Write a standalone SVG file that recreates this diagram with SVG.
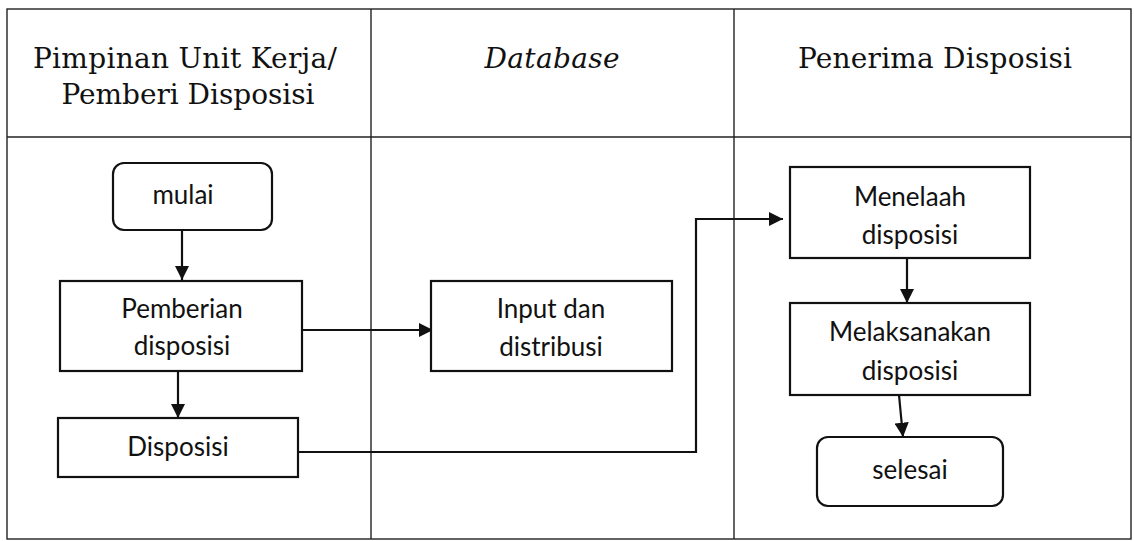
<svg xmlns="http://www.w3.org/2000/svg" width="1134" height="541" viewBox="0 0 1134 541">
<defs>
<style>
.grid{fill:none;stroke:#222;stroke-width:1.4}
.box{fill:#fff;stroke:#111;stroke-width:2.2}
.hdr{font-family:"DejaVu Serif","Liberation Serif",serif;font-size:28px;fill:#111;text-anchor:middle}
.lbl{font-family:Lato,"Open Sans",sans-serif;font-size:26px;fill:#111;text-anchor:middle}
.con{fill:none;stroke:#111;stroke-width:2.2;marker-end:url(#ah)}
</style>
<marker id="ah" viewBox="0 0 10 10" refX="10" refY="5" markerWidth="6.5" markerHeight="6.5" markerUnits="strokeWidth" orient="auto">
<path d="M0,0 L10,5 L0,10 z" fill="#111"/>
</marker>
</defs>
<rect width="1134" height="541" fill="#fff"/>
<g id="table">
<rect class="grid" x="7" y="9" width="1124" height="530"/>
<line class="grid" x1="7" y1="137" x2="1131" y2="137"/>
<line class="grid" x1="371" y1="9" x2="371" y2="539"/>
<line class="grid" x1="734" y1="9" x2="734" y2="539"/>
<text class="hdr" x="185" y="68" textLength="304">Pimpinan Unit Kerja/</text>
<text class="hdr" x="188" y="104" textLength="253">Pemberi Disposisi</text>
<text class="hdr" x="552" y="68" font-style="italic" textLength="135">Database</text>
<text class="hdr" x="935" y="68" textLength="274">Penerima Disposisi</text>
</g>
<g id="connectors">
<line class="con" x1="182" y1="230" x2="182" y2="280"/>
<line class="con" x1="302" y1="330" x2="433" y2="330"/>
<line class="con" x1="178" y1="371" x2="178" y2="418"/>
<polyline class="con" points="298,452 696,452 696,219 783,219"/>
<line class="con" x1="907" y1="258" x2="907" y2="303"/>
<line class="con" x1="899" y1="395" x2="903" y2="437"/>
</g>
<g id="mulai">
<rect class="box" x="113" y="163" width="159" height="67" rx="11"/>
<text class="lbl" x="183" y="204">mulai</text>
</g>
<g id="pemberian">
<rect class="box" x="60" y="281" width="242" height="90"/>
<text class="lbl" x="182" y="318">Pemberian</text>
<text class="lbl" x="182" y="355">disposisi</text>
</g>
<g id="disposisi">
<rect class="box" x="58" y="418" width="240" height="59"/>
<text class="lbl" x="178" y="456">Disposisi</text>
</g>
<g id="input">
<rect class="box" x="431" y="281" width="241" height="90"/>
<text class="lbl" x="551" y="318">Input dan</text>
<text class="lbl" x="551" y="356">distribusi</text>
</g>
<g id="menelaah">
<rect class="box" x="790" y="167" width="240" height="91"/>
<text class="lbl" x="910" y="206">Menelaah</text>
<text class="lbl" x="910" y="244">disposisi</text>
</g>
<g id="melaksanakan">
<rect class="box" x="790" y="303" width="240" height="92"/>
<text class="lbl" x="910" y="341">Melaksanakan</text>
<text class="lbl" x="910" y="380">disposisi</text>
</g>
<g id="selesai">
<rect class="box" x="817" y="437" width="186" height="69" rx="11"/>
<text class="lbl" x="910" y="479">selesai</text>
</g>
</svg>
